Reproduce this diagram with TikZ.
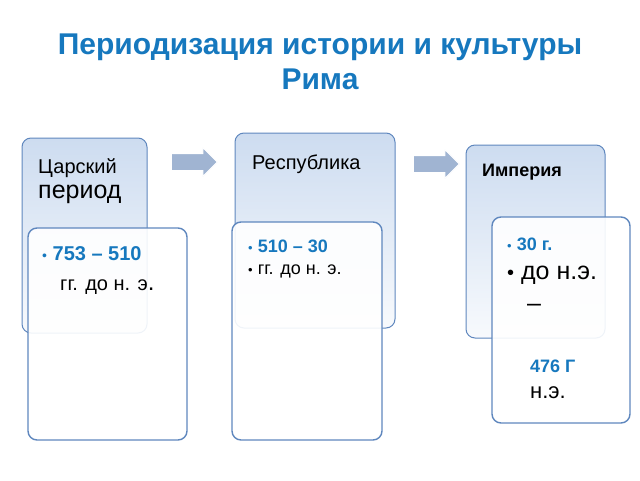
\documentclass[tikz,border=0pt]{standalone}
\usepackage{fontspec}
\setmainfont{Liberation Sans}
\usetikzlibrary{shapes.arrows}
\definecolor{titleblue}{RGB}{22,120,190}
\definecolor{frameblue}{RGB}{95,135,190}
\definecolor{backtop}{RGB}{205,220,240}
\definecolor{arrowgray}{RGB}{160,180,210}
\tikzset{
  backbox/.style={draw=frameblue, line width=1pt, rounded corners=9pt, top color=backtop, bottom color=white!85!backtop},
  frontbox/.style={draw=frameblue, line width=1.4pt, rounded corners=9pt, fill=white, fill opacity=0.9},
  stepping/.style={single arrow, fill=arrowgray, draw=white, line width=1pt, minimum height=46pt, inner sep=8pt, single arrow head extend=6pt, single arrow head indent=0pt},
  item/.style={anchor=north west, align=left, inner sep=0pt}
}
\begin{document}
\begin{tikzpicture}[x=1pt,y=-1pt]
\useasboundingbox (0,0) rectangle (640,480);
% title
\node[font=\fontsize{30}{35}\selectfont\bfseries, text=titleblue, align=center] (title) at (320,62) {Периодизация истории и культуры\\Рима};
% back boxes
\draw[backbox] (22,138) rectangle (147,333);
\draw[backbox] (235,133) rectangle (395,328);
\draw[backbox] (466,145) rectangle (605,338);
\node[item, font=\fontsize{20}{22}\selectfont] (tsar) at (38,158) {Царский\\[3pt]{\fontsize{25}{26}\selectfont период}};
\node[item, font=\fontsize{20}{22}\selectfont] (resp) at (252,155) {Республика};
\node[item, font=\fontsize{18}{20}\selectfont\bfseries] (imp) at (482,164) {Империя};
% arrows
\node[stepping] (arr1) at (190,162) {};
\node[stepping] (arr2) at (432,164) {};
% front boxes
\draw[frontbox] (28,228) rectangle (187,440);
\draw[frontbox] (232,222) rectangle (382,440);
\draw[frontbox] (492,217) rectangle (630,423);
\node[item, font=\fontsize{20}{30}\selectfont] (per1) at (42,246) {%
  {\color{titleblue}{\fontsize{14}{14}\selectfont\textbullet}\ \textbf{753 – 510}}\\
  \hspace{18pt}гг. до н. э{\fontsize{24}{24}\selectfont.}};
\node[item, font=\fontsize{18}{22}\selectfont] (per2) at (248,240) {%
  {\color{titleblue}{\fontsize{13}{13}\selectfont\textbullet}\ \textbf{510 – 30}}\\
  {\fontsize{13}{13}\selectfont\textbullet}\ гг. до н. э.};
\node[item, font=\fontsize{18}{20}\selectfont] (per3) at (507,238) {%
  {\color{titleblue}{\fontsize{13}{13}\selectfont\textbullet}\ \textbf{30 г.}}};
\node[item, font=\fontsize{25}{32}\selectfont] (per3b) at (507,266) {%
  {\fontsize{20}{20}\selectfont\textbullet}\ до н.э.\\\hspace{20pt}–};
\node[item, font=\fontsize{18}{26}\selectfont] (per3c) at (530,360) {%
  {\color{titleblue}\textbf{476 Г}}\\{\fontsize{22}{26}\selectfont н.э.}};
\end{tikzpicture}
\end{document}
